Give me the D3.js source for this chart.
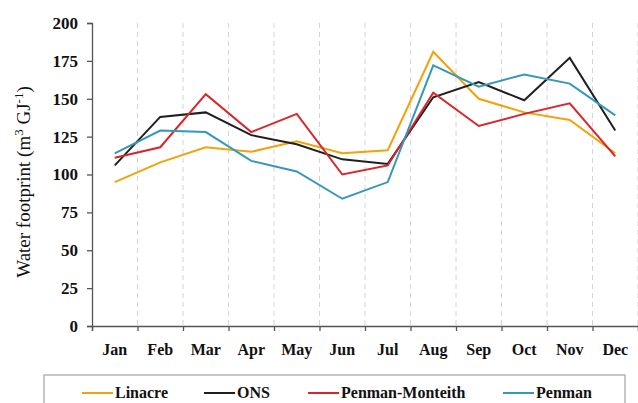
<!DOCTYPE html>
<html>
<head>
<meta charset="utf-8">
<script src="https://cdn.jsdelivr.net/npm/d3@7"></script>
<style>
	body { margin: 0; background: #fff; }
</style>
</head>
<body>
<div id="chart"></div>
<script>
// months on the x axis
var months = ['Jan','Feb','Mar','Apr','May','Jun','Jul','Aug','Sep','Oct','Nov','Dec'];
// y ticks
var yTicks = [0, 25, 50, 75, 100, 125, 150, 175, 200];

// series values
var linacre = [95, 108, 118, 115, 122, 114, 116, 181, 150, 141, 136, 114];
var ons = [106, 138, 141, 126, 120, 110, 107, 151, 161, 149, 177, 129];
var penmanMonteith = [111, 118, 153, 128, 140, 100, 106, 154, 132, 140, 147, 112];
var penman = [114, 129, 128, 109, 102, 84, 95, 172, 158, 166, 160, 139];

var seriesNames = ['Linacre', 'ONS', 'Penman-Monteith', 'Penman'];
var seriesColors = ['#f0a30a', '#1f1f1f', '#d7262b', '#3498b8'];

var FONT = '"Liberation Serif", "Times New Roman", serif';

var params = {
	width: 638,
	height: 403,
	margin: {left: 92, right: 0, top: 23, bottom: 77}
};
params.plotW = params.width - params.margin.left - params.margin.right;
params.plotH = params.height - params.margin.top - params.margin.bottom;

var svg = d3.select('#chart')
	.append('svg')
		.attr('width', params.width)
		.attr('height', params.height)
		.attr('font-family', FONT);

var g = svg.append('g')
	.attr('transform', 'translate(' + params.margin.left + ',' + params.margin.top + ')');

// scales
var x = d3.scaleBand()
	.domain(months)
	.range([0, params.plotW]);
var xEdge = d3.scaleLinear()
	.domain([0, months.length])
	.range([0, params.plotW]);
var y = d3.scaleLinear()
	.domain([0, 200])
	.range([params.plotH, 0]);

// dashed gridlines at band edges
g.selectAll('.grid')
	.data(d3.range(1, months.length + 1)).enter()
	.append('line')
		.attr('class', 'grid')
		.attr('x1', function(d){ return xEdge(d); })
		.attr('x2', function(d){ return xEdge(d); })
		.attr('y1', 0)
		.attr('y2', params.plotH)
		.attr('stroke', '#d4d4d4')
		.attr('stroke-width', 1)
		.attr('stroke-dasharray', '5,4');

// y axis
var yAxis = g.append('g')
	.call(d3.axisLeft(y).tickValues(yTicks).tickSize(5).tickPadding(9));
yAxis.attr('font-family', FONT);
yAxis.selectAll('text')
	.attr('font-family', FONT)
	.attr('font-size', 17)
	.attr('font-weight', 'bold')
	.attr('fill', '#111');

// x axis: tick marks at edges, labels at centres
var xTicks = g.append('g')
	.attr('transform', 'translate(0,' + params.plotH + ')')
	.call(d3.axisBottom(xEdge).tickValues(d3.range(0, months.length + 1)).tickSize(5).tickFormat(''));
var xAxis = g.append('g')
	.attr('transform', 'translate(0,' + params.plotH + ')')
	.call(d3.axisBottom(x).tickSize(0).tickPadding(18));
xAxis.attr('font-family', FONT);
xAxis.select('.domain').remove();
xAxis.selectAll('text')
	.attr('font-family', FONT)
	.attr('font-size', 16)
	.attr('font-weight', 'bold')
	.attr('fill', '#111');

g.selectAll('.domain, .tick line')
	.attr('stroke', '#555')
	.attr('stroke-width', 1.3);

// axis title
var title = svg.append('text')
	.attr('transform', 'translate(30,182) rotate(-90)')
	.attr('text-anchor', 'middle')
	.attr('font-family', FONT)
	.attr('font-size', 19)
	.attr('fill', '#111');
title.append('tspan').text('Water footprint  (m');
title.append('tspan').attr('dy', -7).attr('font-size', 13).text('3');
title.append('tspan').attr('dy', 7).text(' GJ');
title.append('tspan').attr('dy', -7).attr('font-size', 13).text('-1');
title.append('tspan').attr('dy', 7).text(')');

// lines
var allSeries = [linacre, ons, penmanMonteith, penman];
var line = d3.line()
	.x(function(d, i){ return x(months[i]) + x.bandwidth() / 2; })
	.y(function(d){ return y(d); });

g.selectAll('.series')
	.data(allSeries).enter()
	.append('path')
		.attr('class', 'series')
		.attr('d', line)
		.attr('fill', 'none')
		.attr('stroke', function(d, i){ return seriesColors[i]; })
		.attr('stroke-width', 2);

// legend
var legend = svg.append('g');
legend.append('rect')
	.attr('x', 44)
	.attr('y', 375)
	.attr('width', 581)
	.attr('height', 40)
	.attr('fill', '#fff')
	.attr('stroke', '#aaa')
	.attr('stroke-width', 1.3);

var legendX = [82, 204, 308, 503];
var legendItems = legend.selectAll('.item')
	.data(seriesNames).enter()
	.append('g')
		.attr('class', 'item')
		.attr('transform', function(d, i){ return 'translate(' + legendX[i] + ',0)'; });
legendItems.append('line')
	.attr('x1', 0)
	.attr('x2', 31)
	.attr('y1', 393)
	.attr('y2', 393)
	.attr('stroke', function(d, i){ return seriesColors[i]; })
	.attr('stroke-width', 2);
legendItems.append('text')
	.attr('x', 33)
	.attr('y', 398)
	.attr('font-family', FONT)
	.attr('font-size', 16)
	.attr('font-weight', 'bold')
	.attr('fill', '#111')
	.text(function(d){ return d; });
</script>
</body>
</html>
